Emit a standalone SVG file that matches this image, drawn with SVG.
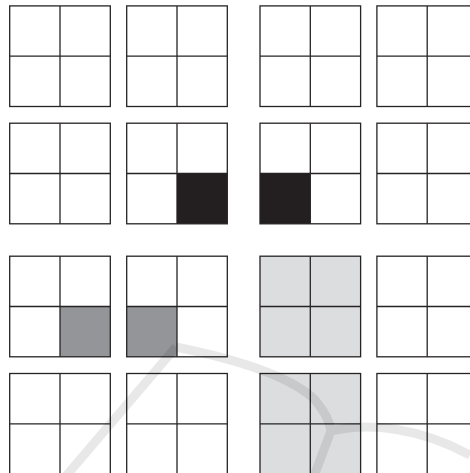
<svg xmlns="http://www.w3.org/2000/svg" width="470" height="473" viewBox="0 0 470 473">
<style>
.cell{fill:none;stroke:#262324;stroke-width:1.3}
.blk{fill:#231f20}
.mid{fill:#939598}
.lt{fill:#dcdddf}
.ln{stroke:#262324;stroke-width:1.3;fill:none}
.wm{fill:none;stroke:#000;stroke-opacity:0.09;stroke-linecap:butt;stroke-linejoin:round}
</style>
<defs>
<g id="grid">
<rect class="cell" x="0" y="0" width="100.6" height="100.6"/>
<line class="ln" x1="50.3" y1="0" x2="50.3" y2="100.6"/>
<line class="ln" x1="0" y1="50.3" x2="100.6" y2="50.3"/>
</g>
</defs>
<rect x="0" y="0" width="470" height="473" fill="#ffffff"/>
<g id="b11" transform="translate(9.7,5.9)"><use href="#grid"/></g>
<g id="b12" transform="translate(126.7,5.9)"><use href="#grid"/></g>
<g id="b13" transform="translate(260,5.9)"><use href="#grid"/></g>
<g id="b14" transform="translate(376.9,5.9)"><use href="#grid"/></g>
<g id="b21" transform="translate(9.7,123.2)"><use href="#grid"/></g>
<g id="b22" transform="translate(126.7,123.2)"><rect class="blk" x="50.3" y="50.3" width="50.3" height="50.3"/><use href="#grid"/></g>
<g id="b23" transform="translate(260,123.2)"><rect class="blk" x="0" y="50.3" width="50.3" height="50.3"/><use href="#grid"/></g>
<g id="b24" transform="translate(376.9,123.2)"><use href="#grid"/></g>
<g id="b31" transform="translate(9.7,256.2)"><rect class="mid" x="50.3" y="50.3" width="50.3" height="50.3"/><use href="#grid"/></g>
<g id="b32" transform="translate(126.7,256.2)"><rect class="mid" x="0" y="50.3" width="50.3" height="50.3"/><use href="#grid"/></g>
<g id="b33" transform="translate(260,256.2)"><rect class="lt" x="0" y="0" width="100.6" height="100.6"/><use href="#grid"/></g>
<g id="b34" transform="translate(376.9,256.2)"><use href="#grid"/></g>
<g id="b41" transform="translate(9.7,373.5)"><use href="#grid"/></g>
<g id="b42" transform="translate(126.7,373.5)"><use href="#grid"/></g>
<g id="b43" transform="translate(260,373.5)"><rect class="lt" x="0" y="0" width="100.6" height="100.6"/><use href="#grid"/></g>
<g id="b44" transform="translate(376.9,373.5)"><use href="#grid"/></g>
<g id="watermark">
<path class="wm" stroke-width="9" d="M176,347 L66,476 M176,347 C230,358 290,375 315,400 C325,412 330,422 331,431 L314,476 M331,431 C370,422 420,428 470,455"/>
</g>
</svg>
